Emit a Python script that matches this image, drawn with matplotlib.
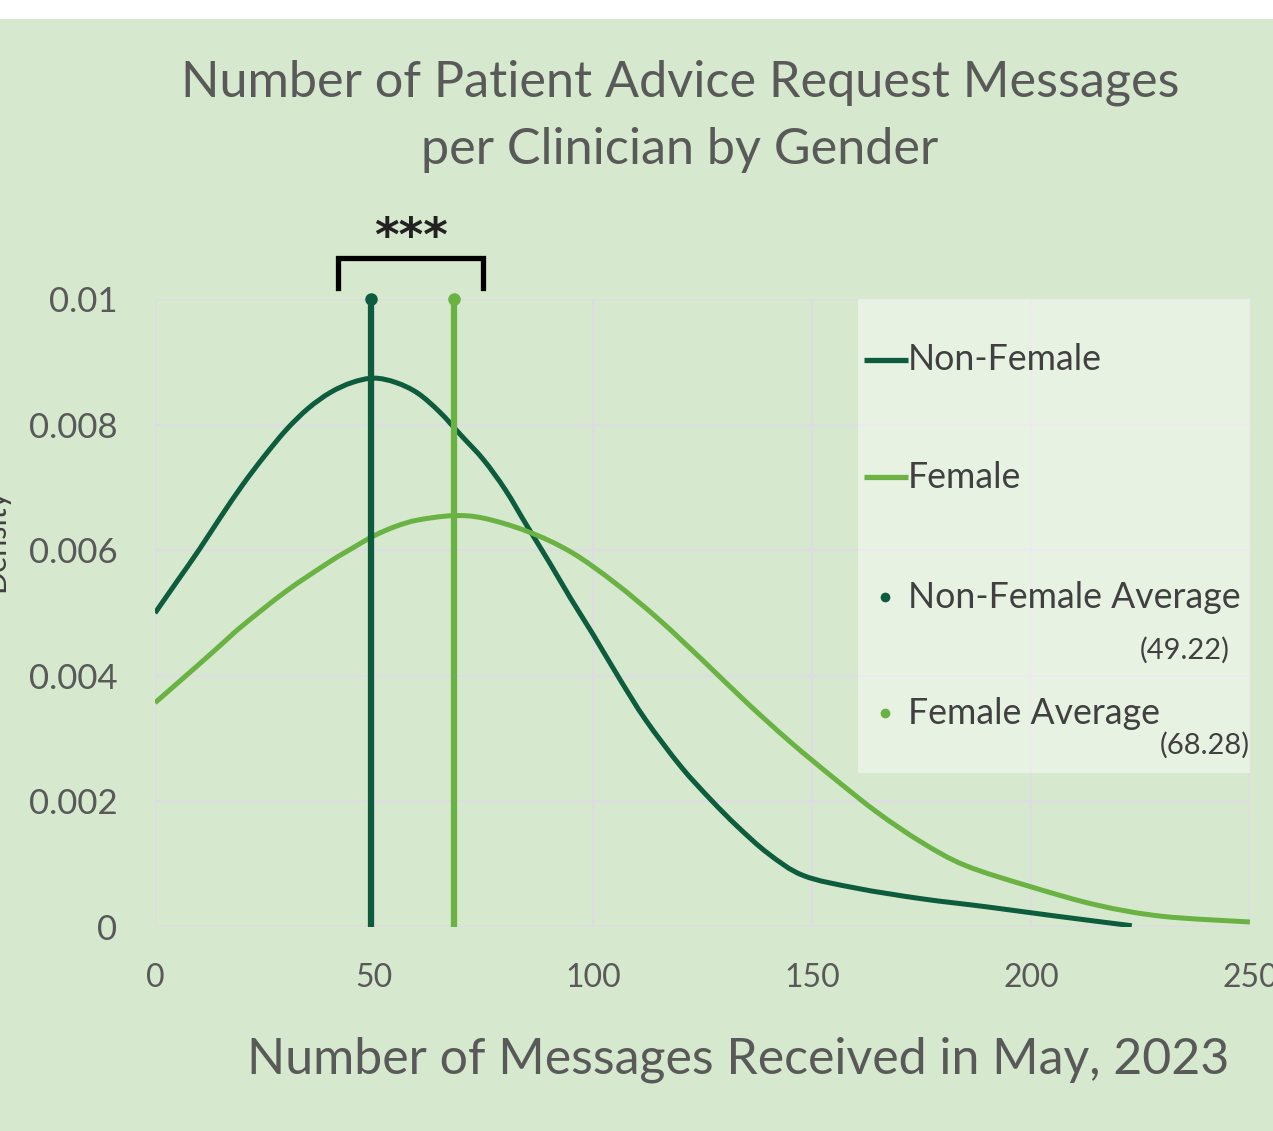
import matplotlib
matplotlib.use("Agg")
import matplotlib.pyplot as plt
from matplotlib.patches import Rectangle, PathPatch
from matplotlib.path import Path

# 数据：核密度曲线
non_female_x = [0, 5, 10, 15, 20, 25, 30, 35, 40, 45, 50, 55, 60, 65, 70, 75, 80,
                85, 90, 95, 100, 106, 112, 120, 127, 133, 140, 148, 160, 175, 190, 205, 223]
non_female_y = [0.00500, 0.00550, 0.00600, 0.00653, 0.00704, 0.00750, 0.00792, 0.00826,
                0.00851, 0.00867, 0.00874, 0.00867, 0.00850, 0.00820, 0.00782, 0.00744,
                0.00696, 0.00638, 0.00581, 0.00522, 0.00466, 0.00396, 0.00330, 0.00256,
                0.00202, 0.00160, 0.00117, 0.00082, 0.00062, 0.00045, 0.00032, 0.00018, 0.00002]

female_x = [0, 10, 15, 20, 30, 40, 45, 50, 55, 60, 68, 75, 85, 95, 105, 115, 125, 135,
            145, 155, 165, 175, 185, 200, 215, 230, 250]
female_y = [0.00357, 0.00418, 0.00449, 0.00480, 0.00535, 0.00582, 0.00603, 0.00623,
            0.00638, 0.00648, 0.00655, 0.00651, 0.00630, 0.00597, 0.00548, 0.00490,
            0.00425, 0.00358, 0.00295, 0.00237, 0.00182, 0.00135, 0.00098, 0.00064,
            0.00035, 0.00017, 0.00008]

non_female_avg = 49.22
female_avg = 68.28

x_ticks = [0, 50, 100, 150, 200, 250]
y_ticks = [0, 0.002, 0.004, 0.006, 0.008, 0.01]
y_tick_labels = ['0', '0.002', '0.004', '0.006', '0.008', '0.01']

BG = '#d6e8cd'
DARK = '#0c5c3d'
LIGHT = '#6ab244'
GRID = '#dcdce2'
TXT = '#595959'

plt.rcParams['font.family'] = ['Lato', 'DejaVu Sans']

W, H = 1273, 1131
fig = plt.figure(figsize=(W / 100, H / 100), dpi=100, facecolor=BG)

# 顶部白边
fig.patches.append(Rectangle((0, 1 - 19 / H), 1, 19 / H, transform=fig.transFigure,
                             facecolor='white', edgecolor='none'))

ax = fig.add_axes([155 / W, 1 - 927 / H, 1095 / W, 628 / H])
ax.set_facecolor(BG)
ax.set_xlim(0, 250)
ax.set_ylim(0, 0.01)
for s in ax.spines.values():
    s.set_visible(False)

ax.set_xticks(x_ticks)
ax.set_xticklabels([str(t) for t in x_ticks])
ax.set_yticks(y_ticks)
ax.set_yticklabels(y_tick_labels)
ax.tick_params(length=0, colors=TXT)
ax.tick_params(axis='x', pad=26, labelsize=23)
ax.tick_params(axis='y', pad=27, labelsize=25)
ax.grid(True, color=GRID, linewidth=1.6, zorder=0)
ax.set_axisbelow(True)


def smooth_line(xs, ys, color):
    # 类似 Excel 平滑线：Catmull-Rom 曲线画成贝塞尔路径
    pts = list(zip(xs, ys))
    verts = [pts[0]]
    codes = [Path.MOVETO]
    n = len(pts)
    for i in range(n - 1):
        p0 = pts[max(i - 1, 0)]
        p1 = pts[i]
        p2 = pts[i + 1]
        p3 = pts[min(i + 2, n - 1)]
        c1 = (p1[0] + (p2[0] - p0[0]) / 6, p1[1] + (p2[1] - p0[1]) / 6)
        c2 = (p2[0] - (p3[0] - p1[0]) / 6, p2[1] - (p3[1] - p1[1]) / 6)
        verts += [c1, c2, p2]
        codes += [Path.CURVE4] * 3
    patch = PathPatch(Path(verts, codes), facecolor='none', edgecolor=color,
                      linewidth=3.6, zorder=3, capstyle='butt')
    ax.add_patch(patch)


smooth_line(non_female_x, non_female_y, DARK)
smooth_line(female_x, female_y, LIGHT)

# 均值竖线
ax.plot([non_female_avg, non_female_avg], [0, 0.01], color=DARK, linewidth=4.5, zorder=4)
ax.plot([female_avg, female_avg], [0, 0.01], color=LIGHT, linewidth=4.5, zorder=4)
ax.plot([non_female_avg], [0.01], 'o', color=DARK, markersize=8, zorder=5, clip_on=False)
ax.plot([female_avg], [0.01], 'o', color=LIGHT, markersize=8, zorder=5, clip_on=False)

# 显著性括号
bx0, bx1 = 41.8, 74.9
by0, by1 = 0.01017, 0.01065
ax.plot([bx0, bx0, bx1, bx1], [by0, by1, by1, by0], color='black', linewidth=3.8,
        clip_on=False, solid_joinstyle='miter', zorder=6)
ax.text((bx0 + bx1) / 2, 0.01096, '***', ha='center', va='center', fontsize=34,
        fontweight='bold', color='#222222', family='DejaVu Sans')

# 自定义图例
ax.add_patch(Rectangle((0.642, 0.245), 0.358, 0.755, transform=ax.transAxes,
                       facecolor='white', alpha=0.45, edgecolor='none', zorder=2))


def px(x, y):
    # 像素坐标 -> 轴坐标
    return (x - 155) / 1095, (927 - y) / 628


lx0, _ = px(864, 0)
lx1, _ = px(908, 0)
for yy, col, label in [(360, DARK, 'Non-Female'), (477, LIGHT, 'Female')]:
    _, ay = px(0, yy)
    ax.plot([lx0, lx1], [ay, ay], color=col, linewidth=3.8, transform=ax.transAxes,
            zorder=6, clip_on=False, solid_capstyle='butt')
    ax.text(lx1, ay, label, transform=ax.transAxes, ha='left', va='center',
            fontsize=25.7, color='#404040', zorder=7)

dx, _ = px(885, 0)
for yy, col, label in [(597, DARK, 'Non-Female Average'), (713, LIGHT, 'Female Average')]:
    _, ay = px(0, yy)
    ax.plot([dx], [ay], 'o', color=col, markersize=6, transform=ax.transAxes, zorder=6)
    ax.text(lx1, ay, label, transform=ax.transAxes, ha='left', va='center',
            fontsize=25.7, color='#404040', zorder=7)

for xx, yy, label in [(1230, 650, '(49.22)'), (1250, 745, '(68.28)')]:
    ax_x, ay = px(xx, yy)
    ax.text(ax_x, ay, label, transform=ax.transAxes, ha='right', va='center',
            fontsize=21, color='#404040', zorder=7)

# 标题与轴标签
fig.text(680 / W, 1 - 116 / H,
         'Number of Patient Advice Request Messages\nper Clinician by Gender',
         ha='center', va='center', fontsize=36.3, color=TXT, linespacing=1.58)
fig.text(738 / W, 1 - 1060 / H, 'Number of Messages Received in May, 2023',
         ha='center', va='center', fontsize=36, color=TXT)
fig.text(9 / W, 1 - 540 / H, 'Density', rotation=90, ha='right', va='center',
         fontsize=22, color='#404040')

fig.savefig('out.png', dpi=100, facecolor=BG)
